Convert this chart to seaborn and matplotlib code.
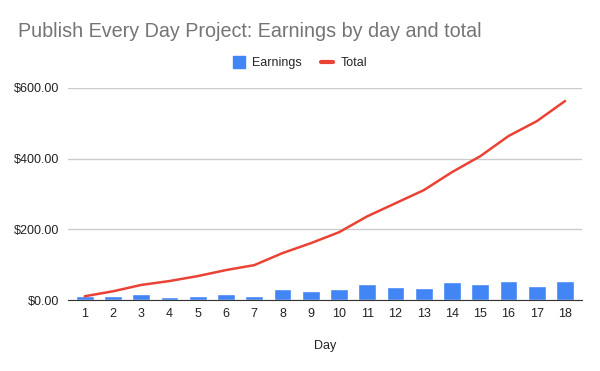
import matplotlib.pyplot as plt
import seaborn as sns
import numpy as np
import pandas as pd
from matplotlib.lines import Line2D

days = [str(d) for d in range(1, 19)]
earnings = [11, 11, 17, 8.5, 11, 17, 11, 31, 25, 31, 45, 37, 34, 51, 45, 54, 40, 54]
total = [11, 25, 43, 54, 68, 85, 99, 133, 161, 192, 237, 274, 311, 362, 407, 464, 506, 563]
yticks = [0, 200, 400, 600]

df = pd.DataFrame({"Day": days, "Earnings": earnings, "Total": total})

sns.set_style("white")
plt.rcParams["font.family"] = ["Liberation Sans", "DejaVu Sans"]

fig = plt.figure(figsize=(6, 3.71), dpi=100)
ax = fig.add_axes([0.113, 0.191, 0.857, 0.572])

sns.barplot(data=df, x="Day", y="Earnings", color="#4285F4", width=0.63,
            saturation=1, ax=ax, zorder=2)
sns.lineplot(x=np.arange(len(days)), y=df["Total"], color="#EA4335",
             linewidth=1.8, ax=ax, zorder=3)

ax.set_ylim(0, 600)
ax.set_xlim(-0.6, len(days) - 0.4)
ax.set_yticks(yticks)
ax.set_yticklabels([f"${v:.2f}" for v in yticks])
ax.grid(axis="y", color="#cccccc", linewidth=1, zorder=0)
ax.set_axisbelow(True)
for s in ["top", "right", "left"]:
    ax.spines[s].set_visible(False)
ax.spines["bottom"].set_color("#333333")
ax.tick_params(axis="both", length=0, labelsize=9, colors="#222222", pad=6)
ax.set_xlabel("Day", fontsize=9, color="#222222", labelpad=14)
ax.set_ylabel("")

fig.text(0.03, 0.915, "Publish Every Day Project: Earnings by day and total",
         fontsize=14.2, color="#757575", va="center", ha="left")

handles = [
    Line2D([], [], marker="s", color="#4285F4", linestyle="none", markersize=9),
    Line2D([], [], color="#EA4335", linewidth=3),
]
fig.legend(handles, ["Earnings", "Total"], loc="center", bbox_to_anchor=(0.5, 0.83),
           ncol=2, frameon=False, fontsize=9, handlelength=1.0,
           columnspacing=1.5, handletextpad=0.6)

fig.savefig("out.png", dpi=100)
